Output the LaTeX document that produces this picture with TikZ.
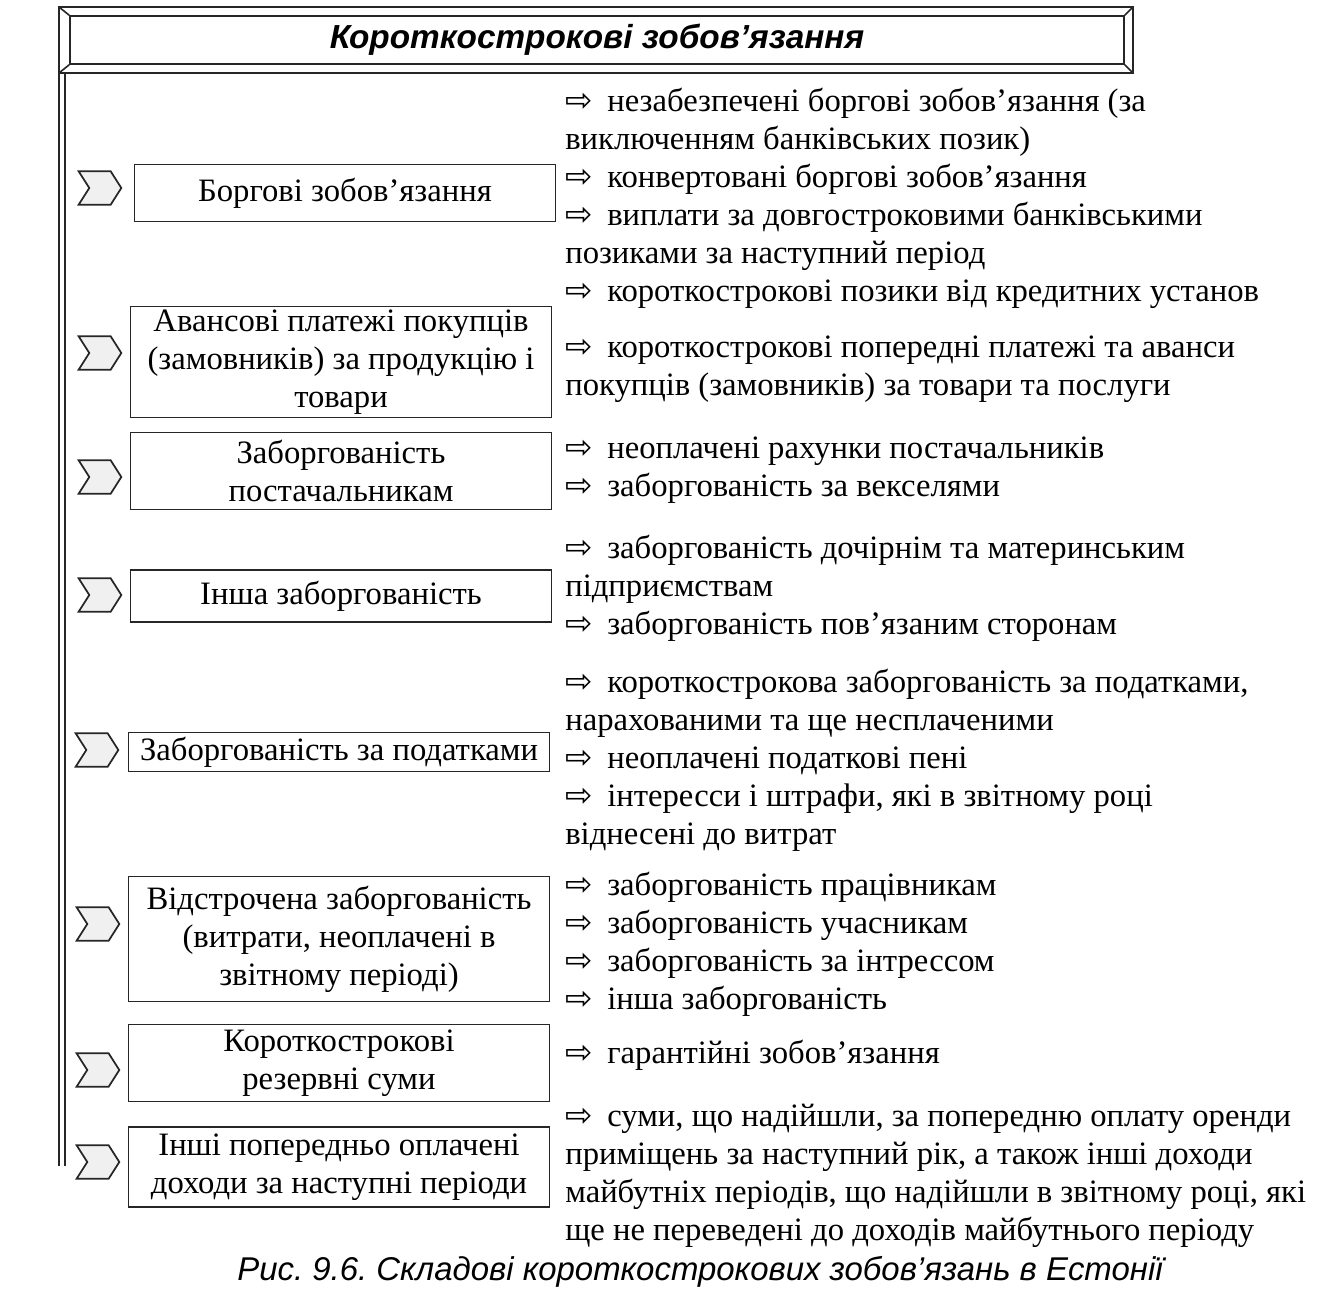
\documentclass[tikz,border=0pt]{standalone}
\usepackage{fontspec}
\setmainfont{Liberation Serif}
\newfontfamily\sansf{Liberation Sans}
\newfontfamily\arrf{DejaVu Sans}
\usetikzlibrary{positioning, shapes.symbols}
\newcommand{\ra}{{\arrf ⇨}\hspace{11pt}}
\newcommand{\lines}[1]{\begin{tabular}[t]{@{}l@{}}#1\end{tabular}}
\frenchspacing

\begin{document}
\begin{tikzpicture}[
    x=0.75pt, y=-0.75pt,
    font=\fontsize{24.5pt}{28.5pt}\selectfont,
    frame/.style={draw=black!85, line width=1.2pt},
    box/.style={draw=black!85, line width=1.2pt, minimum width=316pt, align=center, inner sep=2pt},
    chev/.style={signal, signal to=east, signal from=west, signal pointer angle=115,
                 draw=black!85, line width=1.3pt, fill=black!6, minimum width=32pt,
                 minimum height=25pt, inner sep=0pt},
    lst/.style={anchor=base west, inner sep=0pt}
]
\useasboundingbox (0,0) rectangle (1339,1299);

% title bar
\node[frame, minimum width=790.5pt, minimum height=36pt,
      font=\sansf\bfseries\itshape\fontsize{25pt}{30pt}\selectfont] (title) at (597,40) {Короткострокові зобов’язання};
\draw[frame] ([shift={(-10,-8)}]title.north west) coordinate (onw) -- ([shift={(8,-8)}]title.north east) coordinate (one)
    -- ([shift={(8,8)}]title.south east) coordinate (ose) -- ([shift={(-10,8)}]title.south west) coordinate (osw) -- cycle;
\draw[frame] (onw) -- (title.north west) (one) -- (title.north east)
    (ose) -- (title.south east) (osw) -- (title.south west);
\draw[frame] (osw) -- ++(0,1093) ([xshift=4.5pt]osw) -- ++(0,1093);

% left column
\node[box, minimum height=42.75pt] (borg) at (345,193) {Боргові зобов’язання};
\node[box, minimum height=83.25pt] (avans) at (341,362) {Авансові платежі покупців\\ (замовників) за продукцію і\\ товари};
\node[box, minimum height=57.75pt] (post) at (341,471) {Заборгованість\\ постачальникам};
\node[box, minimum height=39pt] (insha) at (341,596) {Інша заборгованість};
\node[box, minimum height=29.25pt] (podat) at (339,752) {Заборгованість за податками};
\node[box, minimum height=93.75pt] (vidstr) at (339,939) {Відстрочена заборгованість\\ (витрати, неоплачені в\\ звітному періоді)};
\node[box, minimum height=57.75pt] (rezerv) at (339,1063) {Короткострокові\\ резервні суми};
\node[box, minimum height=60pt] (dohody) at (339,1167) {Інші попередньо оплачені\\ доходи за наступні періоди};

\node[chev] (c1) at (100,188) {};
\node[chev] (c2) at (100,353) {};
\node[chev] (c3) at (100,477) {};
\node[chev] (c4) at (100,595) {};
\node[chev] (c5) at (97,750) {};
\node[chev] (c6) at (98,924) {};
\node[chev] (c7) at (98,1070) {};
\node[chev] (c8) at (98,1162) {};

% right column
\node[lst] (lborg) at (565,111) {\lines{\ra незабезпечені боргові зобов’язання (за\\ виключенням банківських позик)\\
    \ra конвертовані боргові зобов’язання\\ \ra виплати за довгостроковими банківськими\\
    позиками за наступний період\\ \ra короткострокові позики від кредитних установ}};
\node[lst] (lavans) at (565,357) {\lines{\ra короткострокові попередні платежі та аванси\\ покупців (замовників) за товари та послуги}};
\node[lst] (lpost) at (565,458) {\lines{\ra неоплачені рахунки постачальників\\ \ra заборгованість за векселями}};
\node[lst] (linsha) at (565,558) {\lines{\ra заборгованість дочірнім та материнським\\ підприємствам\\ \ra заборгованість пов’язаним сторонам}};
\node[lst] (lpodat) at (565,692) {\lines{\ra короткострокова заборгованість за податками,\\ нарахованими та ще несплаченими\\
    \ra неоплачені податкові пені\\ \ra інтересси і штрафи, які в звітному році\\ віднесені до витрат}};
\node[lst] (lvidstr) at (565,895) {\lines{\ra заборгованість працівникам\\ \ra заборгованість учасникам\\
    \ra заборгованість за інтрессом\\ \ra інша заборгованість}};
\node[lst] (lrezerv) at (565,1063) {\lines{\ra гарантійні зобов’язання}};
\node[lst] (ldohody) at (565,1126) {\lines{\ra суми, що надійшли, за попередню оплату оренди\\ приміщень за наступний рік, а також інші доходи\\
    майбутніх періодів, що надійшли в звітному році, які\\ ще не переведені до доходів майбутнього періоду}};

\node[font=\sansf\itshape\fontsize{24.7pt}{28pt}\selectfont] (cap) at (700,1272) {Рис. 9.6. Складові короткострокових зобов’язань в Естонії};
\end{tikzpicture}
\end{document}
